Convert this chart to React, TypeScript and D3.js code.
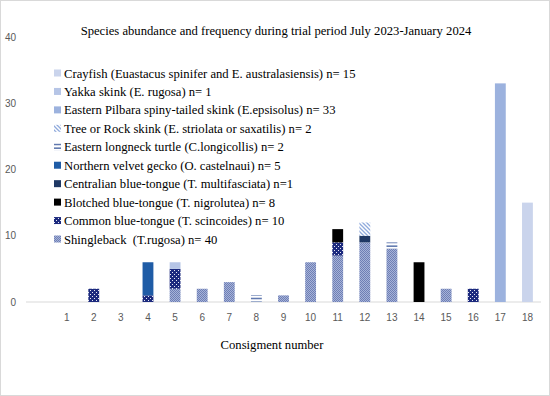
import React from "react";
import * as d3 from "d3";

// consignment numbers (first slot is the empty category Excel left on the axis)
const consignments = ["", "1", "2", "3", "4", "5", "6", "7", "8", "9", "10", "11", "12", "13", "14", "15", "16", "17", "18"];
const yTicks = [0, 10, 20, 30, 40];

// counts per consignment 1..18
const shingleback = [0, 0, 0, 0, 2, 2, 3, 0, 1, 6, 7, 9, 8, 0, 2, 0, 0, 0];
const commonBlueTongue = [0, 2, 0, 1, 3, 0, 0, 0, 0, 0, 2, 0, 0, 0, 0, 2, 0, 0];
const blotchedBlueTongue = [0, 0, 0, 0, 0, 0, 0, 0, 0, 0, 2, 0, 0, 6, 0, 0, 0, 0];
const centralianBlueTongue = [0, 0, 0, 0, 0, 0, 0, 0, 0, 0, 0, 1, 0, 0, 0, 0, 0, 0];
const velvetGecko = [0, 0, 0, 5, 0, 0, 0, 0, 0, 0, 0, 0, 0, 0, 0, 0, 0, 0];
const longneckTurtle = [0, 0, 0, 0, 0, 0, 0, 1, 0, 0, 0, 0, 1, 0, 0, 0, 0, 0];
const treeRockSkink = [0, 0, 0, 0, 0, 0, 0, 0, 0, 0, 0, 2, 0, 0, 0, 0, 0, 0];
const pilbaraSkink = [0, 0, 0, 0, 0, 0, 0, 0, 0, 0, 0, 0, 0, 0, 0, 0, 33, 0];
const yakkaSkink = [0, 0, 0, 0, 1, 0, 0, 0, 0, 0, 0, 0, 0, 0, 0, 0, 0, 0];
const crayfish = [0, 0, 0, 0, 0, 0, 0, 0, 0, 0, 0, 0, 0, 0, 0, 0, 0, 15];

// bottom to top stacking order
const series = [
	{ key: "shingleback", label: "Shingleback  (T.rugosa) n= 40", values: shingleback, fill: "url(#pShingle)" },
	{ key: "common", label: "Common blue-tongue (T. scincoides) n= 10", values: commonBlueTongue, fill: "url(#pCommon)" },
	{ key: "blotched", label: "Blotched blue-tongue (T. nigrolutea) n= 8", values: blotchedBlueTongue, fill: "#000000" },
	{ key: "centralian", label: "Centralian blue-tongue (T. multifasciata) n=1", values: centralianBlueTongue, fill: "#1f3864" },
	{ key: "gecko", label: "Northern velvet gecko (O. castelnaui) n= 5", values: velvetGecko, fill: "#1f5ca6" },
	{ key: "turtle", label: "Eastern longneck turtle (C.longicollis) n= 2", values: longneckTurtle, fill: "url(#pTurtle)" },
	{ key: "tree", label: "Tree or Rock skink (E. striolata or saxatilis) n= 2", values: treeRockSkink, fill: "url(#pTree)" },
	{ key: "pilbara", label: "Eastern Pilbara spiny-tailed skink (E.epsisolus) n= 33", values: pilbaraSkink, fill: "#9cb2de" },
	{ key: "yakka", label: "Yakka skink (E. rugosa) n= 1", values: yakkaSkink, fill: "#b6c5e6" },
	{ key: "crayfish", label: "Crayfish (Euastacus spinifer and E. australasiensis) n= 15", values: crayfish, fill: "#cad4ec" },
];

const W = 550;
const H = 396;
const serif = "'Liberation Serif', 'Times New Roman', serif";
const sans = "'Liberation Sans', Arial, sans-serif";

export default function App() {
	const rows = consignments.map((c, i) => {
		const r: any = { c };
		series.forEach((s) => (r[s.key] = i === 0 ? 0 : s.values[i - 1]));
		return r;
	});
	const stacked = d3.stack().keys(series.map((s) => s.key))(rows);

	const x = d3.scaleBand().domain(consignments).range([26, 541]).paddingInner(0.6).paddingOuter(0.3);
	const y = d3.scaleLinear().domain([0, 40]).range([302, 37]);
	const legendY = d3.scalePoint().domain(series.map((s) => s.key).reverse()).range([73, 239]);

	return (
		<svg width={W} height={H} style={{ position: "absolute", left: 0, top: 0 }}>
			<defs>
				<pattern id="pShingle" width={2} height={2} patternUnits="userSpaceOnUse">
					<rect width={2} height={2} fill="#a6b3d8" />
					<rect width={1} height={1} fill="#6f7fb5" />
					<rect x={1} y={1} width={1} height={1} fill="#6f7fb5" />
				</pattern>
				<pattern id="pCommon" width={4} height={4} patternUnits="userSpaceOnUse">
					<rect width={4} height={4} fill="#1c2a7e" />
					<rect x={0} y={0} width={1} height={1} fill="#e8ebf5" />
					<rect x={2} y={2} width={1} height={1} fill="#e8ebf5" />
				</pattern>
				<pattern id="pTurtle" width={4} height={3.5} patternUnits="userSpaceOnUse">
					<rect width={4} height={3.5} fill="#ffffff" />
					<rect y={0.5} width={4} height={1.2} fill="#2f4f96" />
				</pattern>
				<pattern id="pTree" width={4} height={4} patternUnits="userSpaceOnUse">
					<rect width={4} height={4} fill="#ffffff" />
					<path d="M-1,-1 L5,5 M-1,3 L1,5 M3,-1 L5,1" stroke="#8faadc" strokeWidth={1.3} />
				</pattern>
			</defs>
			<rect x={0.5} y={0.5} width={W - 1} height={H - 1} fill="#ffffff" stroke="#d9d9d9" />

			<text x={276} y={35} textAnchor="middle" fontFamily={serif} fontSize={12.65} fill="#000">
				Species abundance and frequency during trial period July 2023-January 2024
			</text>

			{yTicks.map((t) => (
				<text key={t} x={16} y={y(t) + 3.5} textAnchor="end" fontFamily={sans} fontSize={10} fill="#595959">
					{t}
				</text>
			))}

			<line x1={26} x2={541} y1={y(0)} y2={y(0)} stroke="#d9d9d9" strokeWidth={1} />

			{stacked.map((layer, li) => (
				<g key={layer.key} fill={series[li].fill}>
					{layer.map((d, i) =>
						d[1] - d[0] > 0 ? (
							<rect
								key={i}
								x={x(consignments[i])}
								y={y(d[1])}
								width={x.bandwidth()}
								height={y(d[0]) - y(d[1])}
							/>
						) : null,
					)}
				</g>
			))}

			{consignments.slice(1).map((c) => (
				<text
					key={c}
					x={(x(c) as number) + x.bandwidth() / 2}
					y={321}
					textAnchor="middle"
					fontFamily={sans}
					fontSize={10}
					fill="#595959"
				>
					{c}
				</text>
			))}

			<text x={272} y={349} textAnchor="middle" fontFamily={serif} fontSize={12.65} fill="#000">
				Consigment number
			</text>

			{series.map((s) => {
				const cy = legendY(s.key) as number;
				return (
					<g key={s.key}>
						<rect x={54} y={cy - 3.5} width={7} height={7} fill={s.fill} />
						<text
							x={64}
							y={cy + 4.5}
							fontFamily={serif}
							fontSize={12.65}
							fill="#000"
							style={{ whiteSpace: "pre" }}
						>
							{s.label}
						</text>
					</g>
				);
			})}
		</svg>
	);
}
